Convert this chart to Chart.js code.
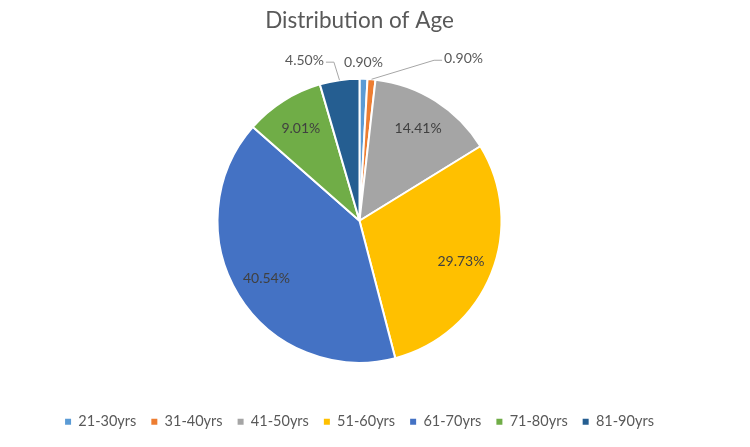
<!DOCTYPE html>
<html>
<head>
<meta charset="utf-8">
<script src="https://cdn.jsdelivr.net/npm/chart.js@4/dist/chart.umd.min.js"></script>
<style>
  html, body { margin: 0; padding: 0; background: #fff; }
  #wrap { width: 750px; height: 447px; }
</style>
</head>
<body>
<div id="wrap"><canvas id="ageChart"></canvas></div>
<script>
// data
const ageGroups = ['21-30yrs', '31-40yrs', '41-50yrs', '51-60yrs', '61-70yrs', '71-80yrs', '81-90yrs'];
const agePercent = [0.90, 0.90, 14.41, 29.73, 40.54, 9.01, 4.50];
const sliceColors = ['#5B9BD5', '#ED7D31', '#A5A5A5', '#FFC000', '#4472C4', '#70AD47', '#255E91'];

// where each value label goes: inside the slice, or outside with an offset from the rim
const labelPlace = [
    { dx: 0, dy: -16, line: false },
    { dx: 92, dy: -21, line: true },
    { inside: true },
    { inside: true },
    { inside: true },
    { inside: true },
    { dx: -35, dy: -20, line: true }
];

const pieLabels = {
    id: 'pieLabels',
    afterDatasetsDraw(chart) {
        const c = chart.ctx;
        const meta = chart.getDatasetMeta(0);
        c.save();
        c.font = '14px Lato';
        c.textAlign = 'center';
        c.textBaseline = 'middle';
        meta.data.forEach((arc, i) => {
            const p = arc.getProps(['x', 'y', 'startAngle', 'endAngle', 'outerRadius'], true);
            const mid = (p.startAngle + p.endAngle) / 2;
            const text = agePercent[i].toFixed(2) + '%';
            const place = labelPlace[i];
            if (place.inside) {
                const r = p.outerRadius * 0.77;
                c.fillStyle = '#404040';
                c.fillText(text, p.x + Math.cos(mid) * r, p.y + Math.sin(mid) * r);
                return;
            }
            const ex = p.x + Math.cos(mid) * p.outerRadius;
            const ey = p.y + Math.sin(mid) * p.outerRadius;
            const lx = ex + place.dx;
            const ly = ey + place.dy;
            c.fillStyle = '#595959';
            c.fillText(text, lx, ly);
            if (place.line) {
                const w = c.measureText(text).width;
                const side = place.dx > 0 ? -1 : 1;
                const tx = lx + side * (w / 2 + 2);
                const kx = tx + side * 8;
                c.strokeStyle = '#A6A6A6';
                c.lineWidth = 1;
                c.beginPath();
                c.moveTo(ex, ey);
                c.lineTo(kx, ly + 2);
                c.lineTo(tx, ly + 2);
                c.stroke();
            }
        });
        c.restore();
    }
};

const ctx = document.getElementById('ageChart').getContext('2d');
const ageChart = new Chart(ctx, {
    type: 'pie',
    data: {
        labels: ageGroups,
        datasets: [{
            data: agePercent,
            backgroundColor: sliceColors,
            borderColor: '#ffffff',
            borderWidth: 2
        }]
    },
    options: {
        responsive: true,
        maintainAspectRatio: false,
        animation: false,
        radius: 142,
        layout: {
            padding: { left: 0, right: 31, top: 0, bottom: 8 }
        },
        plugins: {
            title: {
                display: true,
                text: 'Distribution of Age',
                color: '#595959',
                font: { family: 'Lato', size: 22.5, weight: 'normal' },
                padding: { top: 7, bottom: 8 }
            },
            legend: {
                position: 'bottom',
                labels: {
                    color: '#595959',
                    font: { family: 'Lato', size: 14.5 },
                    boxWidth: 6,
                    boxHeight: 6,
                    padding: 15,
                    generateLabels(chart) {
                        const items = Chart.overrides.pie.plugins.legend.labels.generateLabels(chart);
                        return items.map(it => Object.assign(it, { lineWidth: 0 }));
                    }
                }
            },
            tooltip: { enabled: false }
        }
    },
    plugins: [pieLabels]
});
</script>
</body>
</html>
